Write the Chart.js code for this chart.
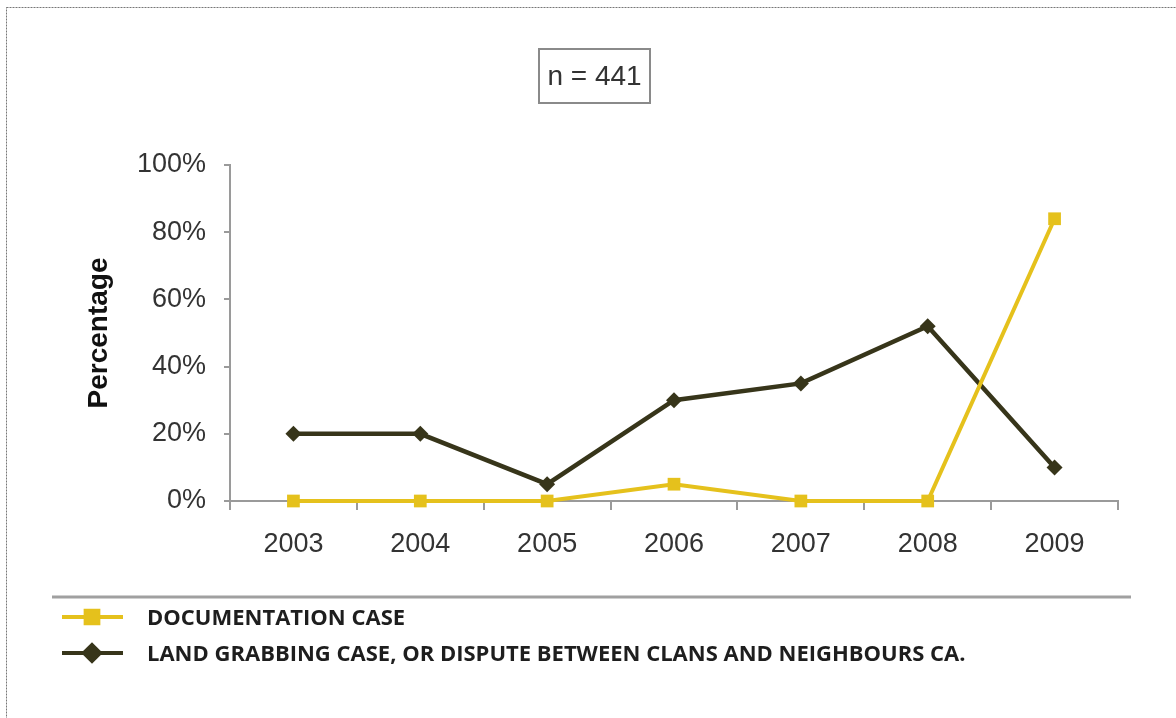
<!DOCTYPE html>
<html>
<head>
<meta charset="utf-8">
<script src="https://cdn.jsdelivr.net/npm/chart.js@4.4.1/dist/chart.umd.min.js"></script>
<style>
  html, body { margin: 0; padding: 0; background: #fff; }
  #wrap { width: 1176px; height: 718px; }
</style>
</head>
<body>
<div id="wrap"><canvas id="chart" width="1176" height="718"></canvas></div>
<script>
const years = ['2003', '2004', '2005', '2006', '2007', '2008', '2009'];
const documentationCase = [0, 0, 0, 5, 0, 0, 84];
const landGrabbingCase = [20, 20, 5, 30, 35, 52, 10];
const seriesNames = ['DOCUMENTATION CASE', 'LAND GRABBING CASE, OR DISPUTE BETWEEN CLANS AND NEIGHBOURS CA.'];
const sampleSize = 'n = 441';

const YELLOW = '#e5c11c';
const DARK = '#37351a';
const AXIS_GREY = '#9a9a9a';

// border, "n =" box, separator and legend drawn on the canvas
const extras = {
    id: 'extras',
    beforeDraw(chart) {
        const ctx = chart.ctx;
        ctx.save();
        ctx.fillStyle = '#fff';
        ctx.fillRect(0, 0, chart.width, chart.height);
        ctx.strokeStyle = '#777';
        ctx.lineWidth = 1;
        ctx.setLineDash([2, 1]);
        ctx.strokeRect(6.5, 7.5, 1200, 800);
        ctx.restore();
    },
    afterDraw(chart) {
        const ctx = chart.ctx;
        ctx.save();
        // sample size box
        ctx.strokeStyle = '#8a8a8a';
        ctx.lineWidth = 2;
        ctx.strokeRect(539, 49, 111, 54);
        ctx.fillStyle = '#333';
        ctx.font = '28px "Liberation Sans", Arial, sans-serif';
        ctx.textAlign = 'center';
        ctx.textBaseline = 'middle';
        ctx.fillText(sampleSize, 594.5, 77);

        // separator
        ctx.strokeStyle = '#a0a0a0';
        ctx.lineWidth = 3;
        ctx.beginPath();
        ctx.moveTo(52, 597);
        ctx.lineTo(1131, 597);
        ctx.stroke();

        // legend
        const ds = chart.data.datasets;
        const rows = [617, 653];
        ds.forEach((d, i) => {
            const y = rows[i];
            ctx.strokeStyle = d.borderColor;
            ctx.lineWidth = 4;
            ctx.beginPath();
            ctx.moveTo(62, y);
            ctx.lineTo(123, y);
            ctx.stroke();
            Chart.helpers.drawPoint(ctx, {
                pointStyle: d.pointStyle,
                radius: d.pointRadius,
                rotation: 0,
                borderWidth: 1
            }, 92, y);
            ctx.fillStyle = d.borderColor;
            ctx.fill();
            ctx.fillStyle = '#1e1e1e';
            ctx.font = 'bold 22px "Open Sans", sans-serif';
            ctx.textAlign = 'left';
            ctx.textBaseline = 'middle';
            ctx.fillText(seriesNames[i], 147, y + 2);
        });
        ctx.restore();
    }
};

new Chart(document.getElementById('chart'), {
    type: 'line',
    data: {
        labels: years,
        datasets: [{
            label: seriesNames[0],
            data: documentationCase,
            borderColor: YELLOW,
            backgroundColor: YELLOW,
            borderWidth: 4,
            pointStyle: 'rect',
            pointRadius: 9,
            pointBorderWidth: 0,
            tension: 0,
            clip: false
        }, {
            label: seriesNames[1],
            data: landGrabbingCase,
            borderColor: DARK,
            backgroundColor: DARK,
            borderWidth: 4.5,
            pointStyle: 'rectRot',
            pointRadius: 8,
            pointBorderWidth: 0,
            tension: 0,
            clip: false
        }]
    },
    options: {
        responsive: false,
        animation: false,
        layout: {
            padding: { top: 165, right: 58, bottom: 157, left: 0 }
        },
        plugins: {
            legend: { display: false },
            tooltip: { enabled: false }
        },
        scales: {
            x: {
                offset: true,
                afterFit(scale) { scale.height = 60; },
                grid: {
                    offset: true,
                    drawOnChartArea: false,
                    tickLength: 9,
                    color: AXIS_GREY,
                    lineWidth: 2
                },
                border: { color: AXIS_GREY, width: 2 },
                ticks: {
                    color: '#333',
                    padding: 18,
                    font: { family: '"Liberation Sans", Arial, sans-serif', size: 27 }
                }
            },
            y: {
                min: 0,
                max: 100,
                afterFit(scale) { scale.width = 230; },
                grid: {
                    drawOnChartArea: false,
                    tickLength: 6,
                    color: AXIS_GREY,
                    lineWidth: 2
                },
                border: { color: AXIS_GREY, width: 2 },
                ticks: {
                    stepSize: 20,
                    color: '#333',
                    padding: 18,
                    font: { family: '"Liberation Sans", Arial, sans-serif', size: 27 },
                    callback: v => v + '%'
                },
                title: {
                    display: true,
                    text: 'Percentage',
                    color: '#111',
                    padding: { top: 82, bottom: 0 },
                    font: { family: '"Liberation Sans", Arial, sans-serif', size: 28, weight: 'bold' }
                }
            }
        }
    },
    plugins: [extras]
});
</script>
</body>
</html>
